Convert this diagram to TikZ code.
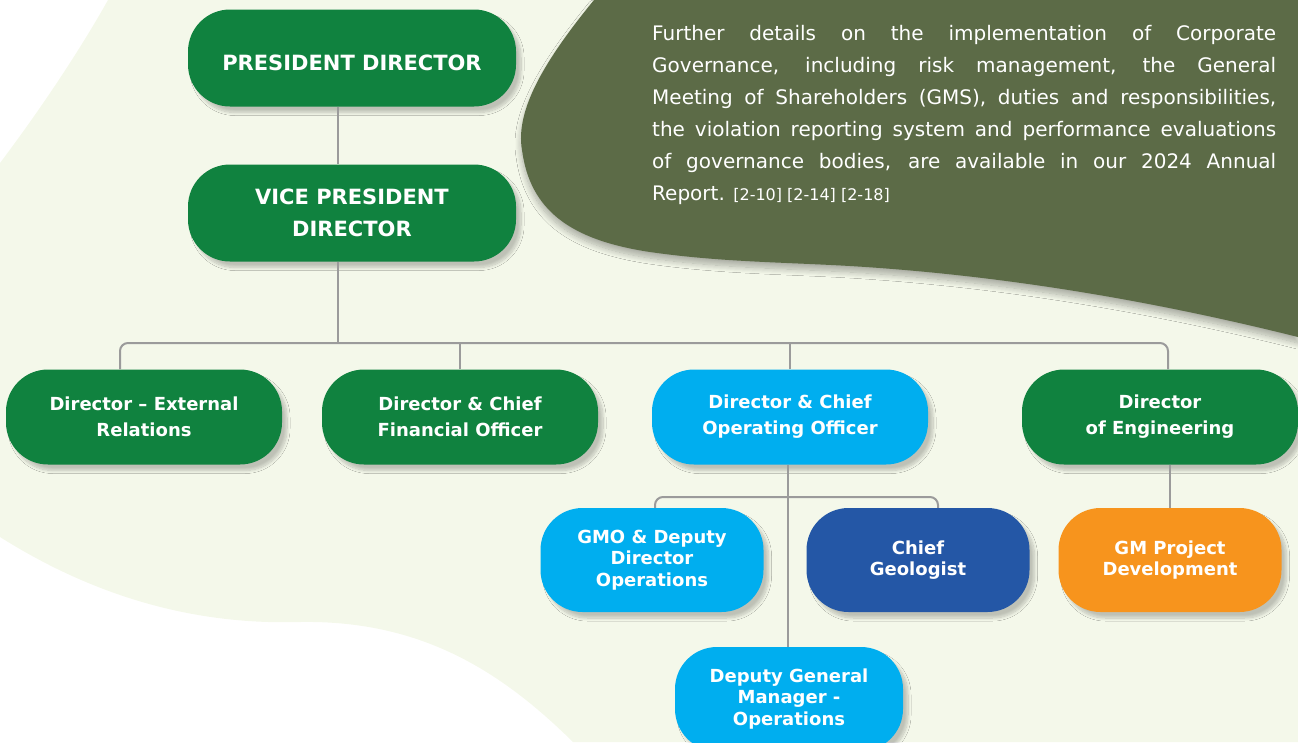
\documentclass[tikz,border=0pt]{standalone}
\usepackage{fontspec}
\setmainfont{DejaVu Sans}
\usetikzlibrary{shadows.blur}
\definecolor{paper}{HTML}{F4F8EA}
\definecolor{blobgreen}{HTML}{5C6B47}
\definecolor{nodegreen}{HTML}{10823F}
\definecolor{nodecyan}{HTML}{00AEEF}
\definecolor{nodeblue}{HTML}{2457A6}
\definecolor{nodeorange}{HTML}{F7941D}
\definecolor{linegray}{HTML}{9B9B9B}
\begin{document}
\begin{tikzpicture}[x=1pt, y=-1pt,
  link/.style={draw=linegray, line width=2pt},
  box/.style={fill=#1, text=white, rounded corners=42pt, inner sep=0pt, align=center,
    minimum width=276pt, minimum height=95pt, font=\bfseries\fontsize{18}{26}\selectfont,
    execute at begin node=\rule{0pt}{1.22em},
    blur shadow={shadow xshift=5pt, shadow yshift=-6pt, shadow blur radius=3pt, shadow blur steps=10, shadow opacity=22}},
  topbox/.style={box=#1, minimum width=328pt, minimum height=97pt, font=\bfseries\fontsize{21}{32}\selectfont},
  subbox/.style={box=#1, minimum width=223pt, minimum height=104pt, font=\bfseries\fontsize{18}{21.5}\selectfont}]
\useasboundingbox (0,0) rectangle (1298,742);
\clip (0,0) rectangle (1298,742);
\fill[paper] (108,0) -- (1298,0) -- (1298,742) -- (573,742) .. controls (500,670) and (420,620) .. (300,622)
  .. controls (200,625) and (100,600) .. (0,537) -- (0,163) .. controls (40,110) and (80,50) .. (108,0) -- cycle;
\fill[blobgreen, blur shadow={shadow xshift=0pt, shadow yshift=-6pt, shadow blur radius=6pt, shadow blur steps=12, shadow opacity=30}]
  (594,0) .. controls (545,60) and (515,110) .. (522,150) .. controls (530,210) and (570,240) .. (650,252)
  .. controls (720,262) and (780,262) .. (850,266) .. controls (1000,275) and (1150,300) .. (1298,337) -- (1298,0) -- cycle;
\node[anchor=north west, text width=624pt, align=justify, inner sep=0pt, text=white,
  font=\fontsize{20}{32}\selectfont] (note) at (652,25) {Further details on the implementation of Corporate\linebreak
  Governance, including risk management, the General\linebreak
  Meeting of Shareholders (GMS), duties and responsibilities,\linebreak
  the violation reporting system and performance evaluations\linebreak
  of governance bodies, are available in our 2024 Annual\linebreak
  Report. {\fontsize{16}{32}\selectfont [2-10] [2-14] [2-18]}};
\draw (352,58) node[topbox=nodegreen] (pd) {PRESIDENT DIRECTOR};
\draw (pd)++(0,155) node[topbox=nodegreen] (vp) {VICE PRESIDENT\\DIRECTOR};
\draw (144,417) node[box=nodegreen] (ext) {Director – External\\Relations};
\draw (ext)++(316,0) node[box=nodegreen] (cfo) {Director \& Chief\\Financial Officer};
\draw (cfo)++(330,0) node[box=nodecyan] (coo) {Director \& Chief\\Operating Officer};
\draw (coo)++(370,0) node[box=nodegreen] (eng) {Director\\of Engineering};
\draw (652,560) node[subbox=nodecyan] (gmo) {GMO \& Deputy\\Director\\Operations};
\draw (gmo)++(266,0) node[subbox=nodeblue] (geo) {Chief\\Geologist};
\draw (geo)++(252,0) node[subbox=nodeorange] (gmp) {GM Project\\Development};
\draw (coo)++(-1,282) node[subbox=nodecyan, minimum width=228pt] (dgm) {Deputy General\\Manager -\\Operations};
\coordinate (bus) at (338,343);
\coordinate (sub) at (788,497);
\draw[link] (pd.south -| bus) -- (vp.north -| bus);
\draw[link] (vp.south -| bus) -- (bus);
\draw[link, rounded corners=8pt] ([xshift=-24pt]ext.north) |- (bus) -| ([xshift=8pt]eng.north);
\draw[link] (cfo.north) -- (cfo.north |- bus);
\draw[link] (coo.north) -- (coo.north |- bus);
\draw[link] (coo.south -| sub) -- (dgm.north -| sub);
\draw[link, rounded corners=8pt] ([xshift=3pt]gmo.north) |- (sub) -| ([xshift=20pt]geo.north);
\draw[link] (eng.south -| gmp) -- (gmp.north);
\end{tikzpicture}
\end{document}
